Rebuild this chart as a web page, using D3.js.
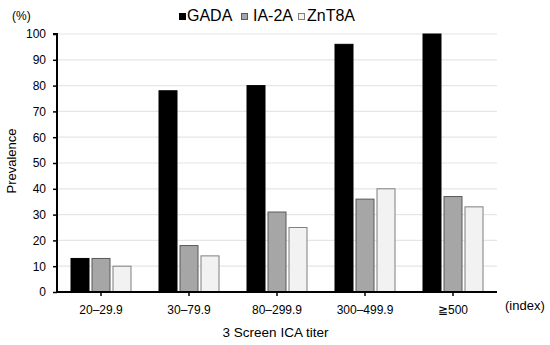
<!DOCTYPE html>
<html><head><meta charset="utf-8">
<script src="https://cdn.jsdelivr.net/npm/d3@7"></script>
<style>body{margin:0;background:#fff}svg{display:block;font-family:"Liberation Sans",Arial,sans-serif}</style>
</head><body>
<script>
const categories = ["20\u201329.9","30\u201379.9","80\u2013299.9","300\u2013499.9","\u2267500"];
const seriesNames = ["GADA","IA-2A","ZnT8A"];
const gada = [13,78,80,96,100];
const ia2a = [13,18,31,36,37];
const znt8a = [10,14,25,40,33];
const yTicks = [0,10,20,30,40,50,60,70,80,90,100];

const series = [gada, ia2a, znt8a];
const fills = ["#000000","#a6a6a6","#f2f2f2"];
const strokes = ["#000000","#595959","#7f7f7f"];

const W=550,H=345;
const svg=d3.select("body").append("svg").attr("width",W).attr("height",H);
const x0=57,x1=497,yTop=34,yBot=292;
const x=d3.scaleBand().domain(categories).range([x0,x1]);
const y=d3.scaleLinear().domain([0,100]).range([yBot,yTop]);
const bw=19, gap=2;

// gridlines
svg.append("g").selectAll("line").data(yTicks.filter(d=>d>0)).join("line")
 .attr("x1",x0).attr("x2",x1).attr("y1",d=>y(d)).attr("y2",d=>y(d))
 .attr("stroke","#e6e6e6").attr("stroke-width",1.2);

// bars
categories.forEach((c,i)=>{
  const cx=x(c)+x.bandwidth()/2;
  const gw=3*bw+2*gap;
  series.forEach((s,j)=>{
    svg.append("rect")
      .attr("x",cx-gw/2+j*(bw+gap)+0.5)
      .attr("y",y(s[i]))
      .attr("width",bw-1)
      .attr("height",yBot-y(s[i]))
      .attr("fill",fills[j]).attr("stroke",strokes[j]).attr("stroke-width",1);
  });
});

// y axis
const ya=svg.append("g").attr("transform",`translate(${x0},0)`)
 .call(d3.axisLeft(y).tickValues(yTicks).tickSize(4).tickPadding(7));
ya.select(".domain").attr("stroke","#000").attr("stroke-width",2).attr("d",`M-4,${yTop}H0V${yBot}`);
ya.selectAll(".tick line").attr("stroke","#000").attr("stroke-width",1.5);
ya.selectAll("text").attr("font-size",12).attr("fill","#000").attr("font-family","Liberation Sans, Arial");

// x axis
const xa=svg.append("g").attr("transform",`translate(0,${yBot})`)
 .call(d3.axisBottom(x).tickSize(4).tickPadding(9));
xa.select(".domain").attr("stroke","#000").attr("stroke-width",2).attr("d",`M${x0},0H${x1}`);
xa.selectAll(".tick line").attr("stroke","#000").attr("stroke-width",1.5);
xa.selectAll("text").attr("font-size",12).attr("fill","#000").attr("font-family","Liberation Sans, Arial");

// labels
svg.append("text").attr("x",12).attr("y",20).attr("font-size",12).text("(%)");
svg.append("text").attr("transform","translate(16,161) rotate(-90)").attr("text-anchor","middle").attr("font-size",13).text("Prevalence");
svg.append("text").attr("x",275.5).attr("y",337).attr("text-anchor","middle").attr("font-size",13.5).text("3 Screen ICA titer");
svg.append("text").attr("x",505).attr("y",310).attr("font-size",13).text("(index)");

// legend
const legX=[179,241,298];
const legT=[187,253,307];
seriesNames.forEach((n,j)=>{
  svg.append("rect").attr("x",legX[j]+0.5).attr("y",13.5).attr("width",6).attr("height",6)
   .attr("fill",fills[j]).attr("stroke",strokes[j]);
  svg.append("text").attr("x",legT[j]).attr("y",21).attr("font-size",16).text(n);
});
</script>
</body></html>
